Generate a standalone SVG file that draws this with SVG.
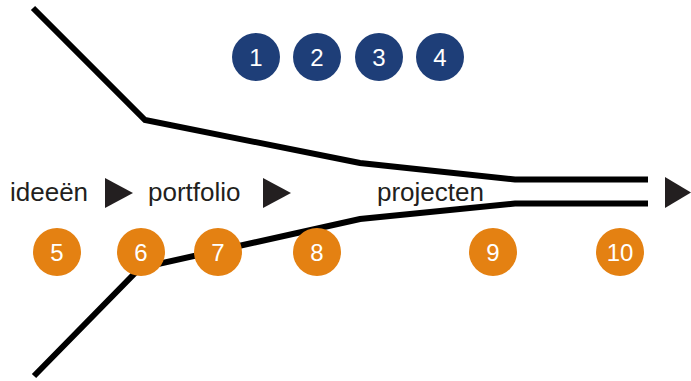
<svg xmlns="http://www.w3.org/2000/svg" width="691" height="381" viewBox="0 0 691 381">
<style>
.ln{fill:none;stroke:#000;stroke-width:6;stroke-linejoin:miter}
.b{fill:#1e3e78}
.o{fill:#e48112}
.n{font-family:"Liberation Sans",Arial,sans-serif;font-size:24px;fill:#fff;text-anchor:middle}
.t{font-family:"Liberation Sans",Arial,sans-serif;font-size:26px;fill:#231f20}
.tri{fill:#231f20}
</style>
<rect width="691" height="381" fill="#fff"/>
<g id="connectors">
<polyline class="ln" points="33,8 145,120 360,163 515,179.5 648,179.5"/>
<polyline class="ln" points="34,376 140,268 360,219 515,203.5 648,203.5"/>
</g>
<g id="labels">
<text class="t" x="10" y="201">ideeën</text>
<polygon class="tri" points="105,178 133,193 105,208"/>
<text class="t" x="148" y="201">portfolio</text>
<polygon class="tri" points="263,178 291,193 263,208"/>
<text class="t" x="377" y="201">projecten</text>
<polygon class="tri" points="665,177 691,192.5 665,208"/>
</g>
<g id="n1"><circle class="b" cx="256" cy="57" r="24"/><text class="n" x="256" y="65.5">1</text></g>
<g id="n2"><circle class="b" cx="317" cy="57" r="24"/><text class="n" x="317" y="65.5">2</text></g>
<g id="n3"><circle class="b" cx="379" cy="57" r="24"/><text class="n" x="379" y="65.5">3</text></g>
<g id="n4"><circle class="b" cx="440" cy="57" r="24"/><text class="n" x="440" y="65.5">4</text></g>
<g id="n5"><circle class="o" cx="57" cy="252" r="24"/><text class="n" x="57" y="260.5">5</text></g>
<g id="n6"><circle class="o" cx="141" cy="252" r="24"/><text class="n" x="141" y="260.5">6</text></g>
<g id="n7"><circle class="o" cx="218" cy="252" r="24"/><text class="n" x="218" y="260.5">7</text></g>
<g id="n8"><circle class="o" cx="317" cy="252" r="24"/><text class="n" x="317" y="260.5">8</text></g>
<g id="n9"><circle class="o" cx="493" cy="252" r="24"/><text class="n" x="493" y="260.5">9</text></g>
<g id="n10"><circle class="o" cx="620" cy="252" r="24"/><text class="n" x="620" y="260.5">10</text></g>
</svg>
